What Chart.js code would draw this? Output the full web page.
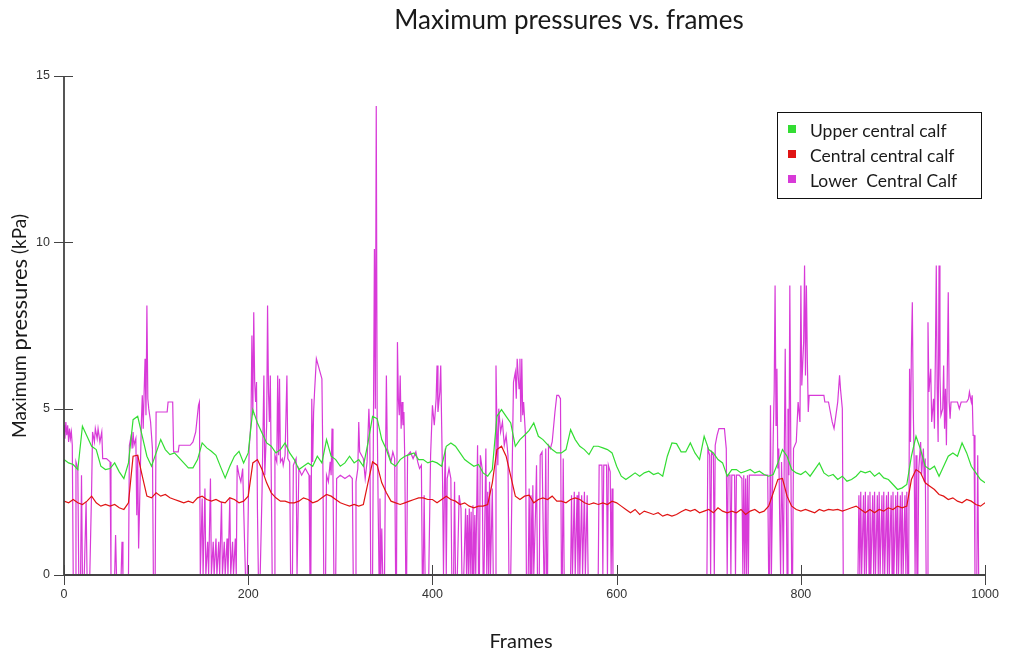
<!DOCTYPE html>
<html><head><meta charset="utf-8">
<script src="https://cdn.jsdelivr.net/npm/chart.js@4.4.1/dist/chart.umd.min.js"></script>
<style>html,body{margin:0;padding:0;background:#fff;}#wrap{width:1011px;height:654px;}</style>
</head><body><div id="wrap"><canvas id="c" width="1011" height="654"></canvas></div>
<script>
const chartTitle = 'Maximum pressures vs. frames';
const xAxisTitle = 'Frames';
const yAxisTitleParts = ['Maximum ', 'pressures', ' (kPa)'];
const seriesLabels = ['Upper central calf', 'Central central calf', 'Lower  Central Calf'];
const seriesColors = ['#33dd33', '#e01414', '#d83ad8'];
const xTicks = [0, 200, 400, 600, 800, 1000];
const yTicks = [0, 5, 10, 15];

const sampleFrames = [
  0,5,10,15,20,25,30,35,40,45, 50,55,60,65,70,75,80,85,90,95,
  100,105,110,115,120,125,130,135,140,145, 150,155,160,165,170,175,180,185,190,195,
  200,205,210,215,220,225,230,235,240,245, 250,255,260,265,270,275,280,285,290,295,
  300,305,310,315,320,325,330,335,340,345, 350,355,360,365,370,375,380,385,390,395,
  400,405,410,415,420,425,430,435,440,445, 450,455,460,465,470,475,480,485,490,495,
  500,505,510,515,520,525,530,535,540,545, 550,555,560,565,570,575,580,585,590,595,
  600,605,610,615,620,625,630,635,640,645, 650,655,660,665,670,675,680,685,690,695,
  700,705,710,715,720,725,730,735,740,745, 750,755,760,765,770,775,780,785,790,795,
  800,805,810,815,820,825,830,835,840,845, 850,855,860,865,870,875,880,885,890,895,
  900,905,910,915,920,925,930,935,940,945, 950,955,960,965,970,975,980,985,990,995,
  1000
];

const upperCentral = [
  3.47,3.37,3.32,3.17,4.47,4.17,3.87,3.77,3.27,3.17, 3.2,3.37,3.1,2.9,3.37,4.67,4.77,4.17,3.57,3.27,
  3.67,4.07,3.77,3.62,3.67,3.52,3.37,3.22,3.22,3.47, 3.97,3.82,3.72,3.6,3.25,2.92,3.27,3.57,3.72,3.37,
  3.67,4.97,4.57,4.27,3.97,3.87,3.67,3.77,3.97,3.67, 3.47,3.17,3.27,3.37,3.27,3.57,3.37,4.07,3.57,3.47,
  3.27,3.37,3.57,3.37,3.47,3.27,3.97,4.77,4.7,4.07, 3.77,3.37,3.27,3.47,3.57,3.62,3.67,3.47,3.47,3.37,
  3.42,3.37,3.27,3.87,3.97,3.87,3.67,3.47,3.37,3.27, 3.32,3.07,2.97,3.17,4.77,4.97,4.77,4.57,3.87,4.07,
  4.2,4.35,4.57,4.17,4.07,3.92,3.77,3.67,3.67,3.77, 4.37,4.07,3.87,3.77,3.62,3.87,3.87,3.82,3.77,3.67,
  3.27,2.97,2.87,2.97,3.07,2.97,3.07,3.12,3.02,3.07, 2.97,3.57,3.97,3.95,3.7,3.7,3.97,3.67,3.47,4.17,
  3.77,3.67,3.47,3.37,2.97,3.17,3.17,3.07,3.12,3.17, 3.07,3.12,3.02,2.97,3.02,3.37,3.77,3.57,3.17,3.07,
  3.02,3.12,2.97,3.17,3.37,3.07,2.97,3.02,2.87,2.97, 2.82,2.87,2.97,3.12,3.07,3.12,2.97,3.07,2.92,2.87,
  2.72,2.57,2.62,2.72,3.57,4.17,3.77,3.27,3.17,3.27, 2.97,3.27,3.57,3.67,3.57,3.97,3.67,3.27,3.07,2.87,
  2.77
];

const centralCentral = [
  2.22,2.17,2.27,2.17,2.12,2.22,2.37,2.17,2.07,2.12, 2.07,2.12,2.02,1.97,2.17,3.57,3.6,2.97,2.37,2.32,
  2.47,2.37,2.42,2.32,2.27,2.22,2.17,2.22,2.17,2.32, 2.37,2.27,2.22,2.27,2.2,2.17,2.32,2.27,2.17,2.22,
  2.37,3.37,3.47,3.17,2.77,2.47,2.32,2.22,2.22,2.17, 2.17,2.22,2.32,2.27,2.17,2.22,2.32,2.42,2.37,2.27,
  2.17,2.12,2.07,2.12,2.07,2.12,2.77,3.4,3.3,2.77, 2.47,2.22,2.17,2.12,2.17,2.22,2.27,2.32,2.32,2.27,
  2.27,2.17,2.27,2.37,2.27,2.22,2.12,2.17,2.07,2.02, 2.07,2.07,2.12,2.77,3.77,3.87,3.57,2.97,2.37,2.27,
  2.37,2.4,2.17,2.27,2.32,2.27,2.37,2.22,2.22,2.17, 2.27,2.32,2.27,2.17,2.12,2.17,2.12,2.17,2.12,2.22,
  2.17,2.07,1.97,1.87,1.97,1.82,1.92,1.87,1.82,1.87, 1.77,1.82,1.77,1.82,1.9,1.97,1.92,1.97,1.87,1.92,
  1.97,1.87,2.02,1.92,1.87,1.92,1.87,1.97,1.82,1.92, 1.97,1.87,1.92,2.07,2.47,2.87,2.9,2.37,2.07,1.97,
  1.92,1.97,1.92,1.87,1.97,1.92,1.97,1.95,1.97,1.92, 1.97,2.02,2.07,1.97,1.87,1.97,1.87,1.97,1.92,2.02,
  1.97,2.07,2.02,2.07,2.87,3.17,3.07,2.77,2.67,2.57, 2.42,2.37,2.27,2.32,2.22,2.17,2.27,2.22,2.12,2.07,
  2.17
];

// [frame, kPa]
const lowerCentral = [
  [0,4.5],[1,4.1],[2,4.6],[3,4.2],[4,4.5],[5,4.0],[6,4.4],[7,4.1],[8,4.3],[9,3.9],[10,0],[12,0],[13,3.4],[15,3.2],[16,0],[18,0],[19,3.0],[20,0],[22,0],[24,2.2],[25,0],[28,0],[30,2.6],[31,4.3],[33,4.0],[34,4.4],[36,4.1],[37,4.4],[39,4.0],[41,4.3],[42,3.5],[46,3.5],[50,3.4],[51,0],[55,0],[56,1.2],[57,0],[62,0],[63,1.0],[64,0],[70,0],[71,3.9],[73,4.2],[74,3.8],[75,4.3],[76,3.9],[78,4.1],[79,1.8],[80,3.6],[81,0.8],[82,2.0],[84,4.6],[85,5.4],[86,4.4],[87,5.5],[88,6.5],[89,4.8],[90,8.1],[91,5.3],[92,5.0],[94,4.6],[96,3.8],[97,0],[99,0],[100,4.9],[112,4.9],[113,5.2],[118,5.2],[119,3.7],[124,3.7],[125,3.9],[137,3.9],[140,4.0],[143,4.3],[146,5.1],[147,5.2],[148,0],
  [150,2.3],[151,0],[153,2.6],[154,0],[156,1.0],[157,0],[159,2.9],[160,0],[162,1.0],[163,0],[165,1.1],[166,0],[168,1.0],[169,0],[171,2.2],[172,0],[174,1.0],[175,0],[177,1.1],[178,0],[180,2.3],[181,0],[183,1.0],[184,0],[186,1.1],[187,0],[188,3.3],[190,3.0],[192,2.8],[194,3.2],[196,1.0],[197,0],[199,0],
  [201,3.8],[203,4.6],[204,7.2],[205,4.8],[206,7.9],[207,5.8],[208,5.2],[209,5.8],[210,2.0],[211,0],[213,0],[215,2.5],[217,6.0],[218,3.0],[220,4.5],[221,8.1],[222,5.5],[223,4.6],[224,6.0],[225,3.0],[226,0],[228,0],[229,3.6],[231,3.4],[232,6.0],[233,3.6],[234,5.9],[235,3.4],[237,3.5],[238,3.3],[240,3.6],[242,6.0],[243,3.5],[245,3.4],[246,0],[248,0],[249,3.3],[252,3.5],[253,0],[254,0],[255,3.2],[258,3.0],[262,3.2],[266,3.0],[267,0],[268,0],[269,5.3],[270,3.4],[271,4.9],[272,5.5],[274,6.5],[276,6.3],[278,6.1],[280,5.9],[281,3.5],[282,0],[284,0],[285,3.0],[287,2.8],[289,3.4],[290,3.0],[291,4.4],[292,3.0],[293,0],[295,0],[296,2.9],[300,3.0],[305,2.9],[310,3.0],[313,2.9],[314,0],[316,0],[317,2.8],[319,3.2],[320,4.6],[321,3.7],[323,3.6],[325,3.5],[327,2.9],[329,3.4],[331,5.0],[332,4.2],[333,0],[335,0],[336,4.8],[337,9.8],[338,5.0],[339,14.1],[340,4.8],[341,2.2],[342,0],[343,2.3],[344,0],[345,1.4],[346,0],[348,0],[349,3.3],[350,6.0],[351,3.8],[353,3.6],[355,3.4],[357,3.7],[359,3.5],[360,0],[361,0],[362,7.0],[363,5.3],[364,4.8],[365,6.0],[366,4.4],[367,5.2],[368,4.5],[369,4.9],[370,3.4],[371,0],[372,0],[373,3.6],[376,3.7],[379,3.5],[382,3.7],[384,3.4],[386,3.2],[388,3.3],[389,0],[390,0],[391,2.4],[392,0],[396,0],[398,3.6],
  [400,5.1],[402,4.5],[404,5.3],[405,6.3],[406,4.9],[408,5.5],[409,6.3],[410,4.5],[411,2.8],[412,0],[413,2.6],[414,3.8],[415,0],[416,2.9],[418,3.2],[420,2.9],[421,0],[423,0],[424,2.8],[425,0],[427,0],[429,2.4],[431,2.0],[432,0],[434,0],[436,2.0],[437,0],[438,1.8],[439,0],[440,2.0],[441,0],[442,1.9],[443,0],[444,2.1],[445,0],[446,1.8],[447,0],[449,3.9],[450,0],[451,0],[452,3.6],[454,3.2],[455,0],[456,0],[458,3.8],[459,0],[460,2.5],[461,0],[462,2.8],[463,0],[465,2.6],[466,0],[468,0],[469,6.3],[470,4.5],[471,3.3],[472,5.0],[474,4.3],[476,4.6],[478,3.9],[480,4.2],[482,3.6],[483,0],[485,0],[487,4.0],[488,5.8],[490,6.1],[491,5.3],[492,6.5],[494,5.6],[495,6.5],[496,4.6],[497,6.5],[498,4.8],[499,5.2],[501,4.2],[502,0],[504,0],[505,2.6],[506,0],[507,2.4],[508,0],[509,2.7],[510,0],[512,2.0],[513,3.3],[514,0],[516,0],[517,3.6],[519,3.7],[521,0],[522,0],[523,3.8],[524,0],[525,0],[526,3.9],[528,3.8],[530,4.0],[533,4.9],[535,5.4],[537,5.4],[539,5.3],[540,0],[541,0],[542,3.5],[543,0],[550,0],[551,2.4],[552,0],[554,2.5],[555,0],[557,2.4],[558,0],[559,2.5],[560,0],[562,2.4],[563,0],[565,2.5],[566,0],[568,2.4],[569,0],[580,0],[581,3.3],[584,3.3],[585,0],[586,3.3],[589,3.3],[590,0],[591,3.3],[593,3.1],[594,0],[595,2.6],[596,0],
  [698,0],[699,3.8],[701,3.6],[702,0],[703,3.7],[705,3.6],[706,0],[707,3.9],[709,4.2],[711,4.4],[717,4.4],[719,3.8],[720,0],[721,3.0],[723,3.0],[724,0],[725,3.0],[728,3.0],[729,0],[730,3.0],[733,3.0],[736,2.9],[737,0],[738,3.0],[739,0],[740,2.9],[741,0],[742,3.0],[743,0],[744,3.0],[750,3.0],[755,3.0],[760,3.0],[764,3.0],[765,0],[766,0],[767,5.1],[768,0],[770,4.2],[771,5.5],[772,8.7],[773,4.5],[774,6.2],[775,3.2],[776,3.8],[777,1.7],[778,0],[779,3.4],[780,2.0],[781,0],[782,3.7],[783,6.8],[784,2.8],[785,0],[786,5.0],[787,3.0],[788,8.7],[789,4.0],[790,0],[791,0],[792,3.8],[795,4.0],[797,5.2],[799,4.6],
  [800,8.7],[801,5.7],[803,7.0],[804,9.3],[805,6.0],[806,8.7],[807,6.5],[808,4.9],[809,5.4],[815,5.4],[820,5.4],[825,5.4],[826,5.2],[830,5.2],[832,4.9],[834,4.6],[836,4.4],[838,4.8],[840,5.2],[842,6.0],[843,5.6],[845,5.0],[846,0],[862,0],[863,2.4],[864,0],[865,2.5],[866,0],[868,2.4],[869,0],[870,2.5],[871,0],[873,2.4],[874,0],[875,2.5],[876,0],[878,2.4],[879,0],[880,2.5],[881,0],[883,2.4],[884,0],[885,2.5],[886,0],[888,2.4],[889,0],[890,2.5],[891,0],[893,2.4],[894,0],[895,2.5],[896,0],[898,2.4],[899,0],
  [900,2.5],[901,0],[903,2.4],[904,0],[905,2.5],[906,0],[908,2.4],[909,0],[910,2.5],[911,0],[913,2.4],[914,0],[915,2.5],[916,0],[917,0],[918,6.2],[919,4.0],[920,6.8],[921,8.2],[922,5.0],[923,3.4],[924,0],[925,3.6],[926,0],[927,0],[928,3.2],[930,4.0],[931,3.0],[933,3.8],[934,2.8],[935,3.5],[936,0],[937,0],[938,7.6],[939,5.5],[941,6.2],[942,4.6],[944,5.3],[945,4.4],[946,6.5],[947,9.3],[948,5.6],[949,4.0],[950,9.3],[951,6.0],[952,4.8],[954,5.0],[955,6.3],[956,4.4],[957,5.6],[958,3.9],[959,6.2],[960,8.5],[961,5.2],[962,4.7],[963,5.2],[970,5.2],[972,5.0],[974,5.2],[980,5.2],[982,5.3],[983,5.5],[985,5.2],[986,5.4],[987,4.2],[988,4.2],[989,0],[991,0],[992,3.6],[993,0],[995,0]
];

const UI_FONT = "Lato, 'Open Sans', 'Liberation Sans', sans-serif";
const TICK_FONT = "'Liberation Sans', Arial, sans-serif";

const decor = {
  id: 'decor',
  afterDatasetsDraw(chart) {
    const ctx = chart.ctx, a = chart.chartArea, xs = chart.scales.x, ys = chart.scales.y;
    ctx.save();
    ctx.strokeStyle = '#444';
    // axis lines drawn over the data so zero values hide under them
    ctx.lineWidth = 1.8;
    ctx.beginPath();
    ctx.moveTo(a.left, ys.getPixelForValue(15));
    ctx.lineTo(a.left, a.bottom);
    ctx.lineTo(a.right, a.bottom);
    ctx.stroke();
    // crossing tick marks
    ctx.lineWidth = 1;
    ctx.beginPath();
    xTicks.forEach(v => { const px = Math.round(xs.getPixelForValue(v)) + 0.5; ctx.moveTo(px, a.bottom - 10); ctx.lineTo(px, a.bottom + 10); });
    yTicks.forEach(v => { const py = Math.round(ys.getPixelForValue(v)) + 0.5; ctx.moveTo(a.left - 10, py); ctx.lineTo(a.left + 9, py); });
    ctx.stroke();
    ctx.restore();
  },
  afterDraw(chart) {
    const ctx = chart.ctx;
    ctx.save();
    ctx.fillStyle = '#1a1a1a';
    ctx.textAlign = 'center'; ctx.textBaseline = 'alphabetic';
    ctx.font = '26px ' + UI_FONT;
    ctx.fillText(chartTitle, 569, 29);
    ctx.font = '20px ' + UI_FONT;
    ctx.fillText(xAxisTitle, 521, 648);
    ctx.save();
    ctx.translate(20, 326);
    ctx.rotate(-Math.PI / 2);
    ctx.textAlign = 'left'; ctx.textBaseline = 'middle';
    const fonts = ['19px ' + UI_FONT, '22px ' + UI_FONT, '19px ' + UI_FONT];
    let total = 0; const w = [];
    yAxisTitleParts.forEach((t, i) => { ctx.font = fonts[i]; w[i] = ctx.measureText(t).width; total += w[i]; });
    let cx = -total / 2;
    yAxisTitleParts.forEach((t, i) => { ctx.font = fonts[i]; ctx.fillText(t, cx, 0); cx += w[i]; });
    ctx.restore();
    ctx.strokeStyle = '#111'; ctx.lineWidth = 1;
    ctx.strokeRect(777.5, 112.5, 204, 86);
    ctx.font = '17.5px ' + UI_FONT;
    ctx.textAlign = 'left'; ctx.textBaseline = 'middle';
    const rowY = [131, 156, 181];
    chart.data.datasets.forEach((ds, i) => {
      ctx.fillStyle = ds.borderColor;
      ctx.fillRect(788, rowY[i] - 6, 8, 8);
      ctx.fillStyle = '#1a1a1a';
      ctx.fillText(ds.label, 810, rowY[i]);
    });
    ctx.restore();
  }
};

new Chart(document.getElementById('c'), {
  type: 'line',
  data: {
    datasets: [
      { label: seriesLabels[0], data: sampleFrames.map((f, i) => ({ x: f, y: upperCentral[i] })), borderColor: seriesColors[0], borderWidth: 1.2, pointRadius: 0, tension: 0 },
      { label: seriesLabels[1], data: sampleFrames.map((f, i) => ({ x: f, y: centralCentral[i] })), borderColor: seriesColors[1], borderWidth: 1.2, pointRadius: 0, tension: 0 },
      { label: seriesLabels[2], data: lowerCentral.map(p => ({ x: p[0], y: p[1] })), borderColor: seriesColors[2], borderWidth: 1.2, pointRadius: 0, tension: 0 }
    ]
  },
  options: {
    responsive: false, animation: false, events: [],
    layout: { padding: { top: 76, right: 20, left: 0, bottom: 0 } },
    plugins: { legend: { display: false }, title: { display: false }, tooltip: { enabled: false } },
    scales: {
      x: {
        type: 'linear', min: 0, max: 1000,
        afterBuildTicks: s => { s.ticks = xTicks.map(v => ({ value: v })); },
        afterFit: s => { s.height = 79; },
        grid: { display: false, drawTicks: false, tickLength: 0 },
        border: { display: false },
        ticks: { padding: 12, color: '#333', font: { family: TICK_FONT, size: 12.5 }, maxRotation: 0, callback: v => String(v) }
      },
      y: {
        type: 'linear', min: 0, max: 15,
        afterBuildTicks: s => { s.ticks = yTicks.map(v => ({ value: v })); },
        afterFit: s => { s.width = 64; },
        grid: { display: false, drawTicks: false, tickLength: 0 },
        border: { display: false },
        ticks: { padding: 14, color: '#333', font: { family: TICK_FONT, size: 12.5 }, callback: v => String(v) }
      }
    }
  },
  plugins: [decor]
});
</script>
</body></html>
